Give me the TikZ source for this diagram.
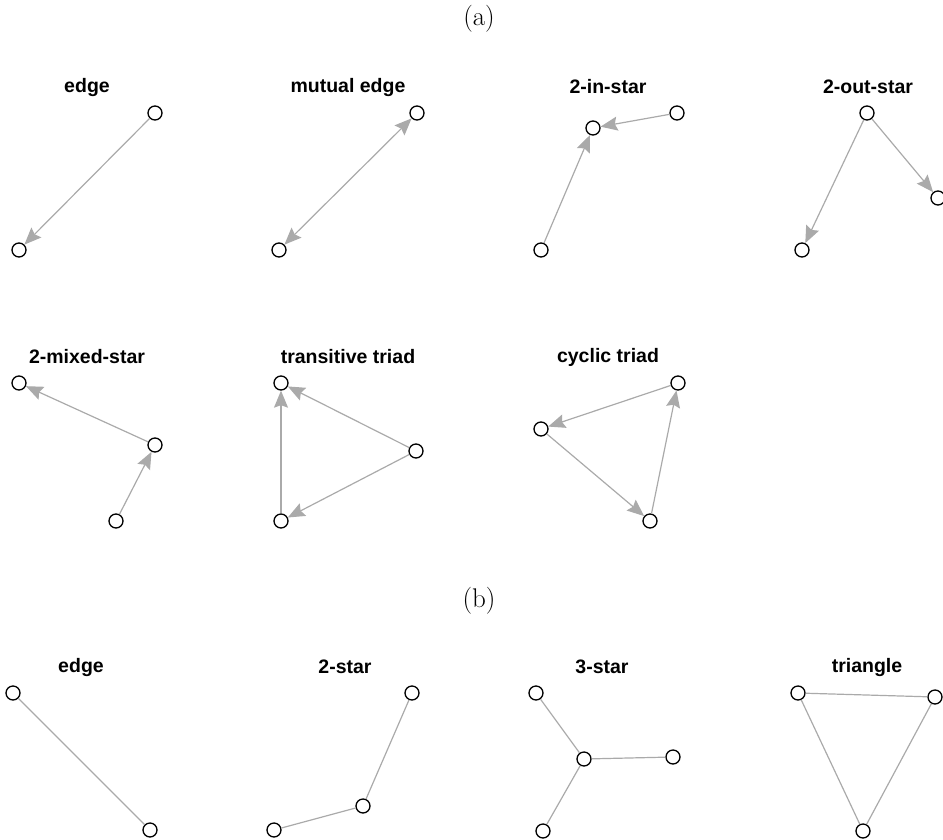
\documentclass[tikz,border=0pt]{standalone}
\usepackage{fontspec}
\newfontfamily\panelfont{Liberation Sans}
\usetikzlibrary{arrows.meta}
\definecolor{edgegray}{HTML}{AAAAAA}
\tikzset{
  vtx/.style={circle, draw=black, line width=1.3pt, fill=white, minimum size=14pt, inner sep=0pt},
  lnk/.style={draw=edgegray, line width=1.2pt},
  tip/.tip={Stealth[length=17pt, width=14pt, inset=2.5pt, fill=edgegray]},
  arr/.style={lnk, -tip},
  both/.style={lnk, tip-tip},
  ttl/.style={font=\panelfont\bfseries\fontsize{19.5}{22}\selectfont},
  part/.style={font=\fontsize{27}{30}\selectfont}
}
\begin{document}
\begin{tikzpicture}[x=1pt, y=-1pt]
  \useasboundingbox (0,0) rectangle (943,839);
  \node[part] (pa) at (479,19) {(a)};
  \node[part] (pb) at (479,601) {(b)};
  % Titles
  \foreach \x/\y/\t in {87/87/edge, 348/87/mutual edge, 608/87/2-in-star, 868/87/2-out-star,
      87/357/2-mixed-star, 348/357/transitive triad, 608/357/cyclic triad,
      81/667/edge, 345/667/2-star, 602/667/3-star, 867/667/triangle}
    \node[ttl] at (\x,\y) {\t};
  % Edge
  \node[vtx] (e1) at (155,113) {}; \node[vtx] (e2) at (19,250) {};
  \draw[arr] (e1) -- (e2);
  % Mutual edge
  \node[vtx] (m1) at (417,113) {}; \node[vtx] (m2) at (279,250) {};
  \draw[both] (m1) -- (m2);
  % 2-in-star
  \node[vtx] (i1) at (593,128) {}; \node[vtx] (i2) at (677,113) {}; \node[vtx] (i3) at (541,250) {};
  \draw[arr] (i2) -- (i1);
  \draw[arr] (i3) -- (i1);
  % 2-out-star
  \node[vtx] (o1) at (867,113) {}; \node[vtx] (o2) at (802,250) {}; \node[vtx] (o3) at (938,198) {};
  \draw[arr] (o1) -- (o2);
  \draw[arr] (o1) -- (o3);
  % 2-mixed-star
  \node[vtx] (x1) at (19,383) {}; \node[vtx] (x2) at (155,445) {}; \node[vtx] (x3) at (116,521) {};
  \draw[arr] (x3) -- (x2);
  \draw[arr] (x2) -- (x1);
  % Transitive triad
  \node[vtx] (t1) at (281,383) {}; \node[vtx] (t2) at (416,451) {}; \node[vtx] (t3) at (281,521) {};
  \draw[arr] (t2) -- (t1);
  \draw[arr] (t3) -- (t1);
  \draw[arr] (t2) -- (t3);
  % Cyclic triad
  \node[vtx] (c1) at (678,383) {}; \node[vtx] (c2) at (541,429) {}; \node[vtx] (c3) at (650,521) {};
  \draw[arr] (c1) -- (c2);
  \draw[arr] (c2) -- (c3);
  \draw[arr] (c3) -- (c1);
  % Undirected edge
  \node[vtx] (u1) at (13,693) {}; \node[vtx] (u2) at (150,830) {};
  \draw[lnk] (u1) -- (u2);
  % 2-star
  \node[vtx] (s1) at (412,693) {}; \node[vtx] (s2) at (363,806) {}; \node[vtx] (s3) at (274,830) {};
  \draw[lnk] (s1) -- (s2) -- (s3);
  % 3-star
  \node[vtx] (r1) at (536,693) {}; \node[vtx] (r2) at (584,759) {};
  \node[vtx] (r3) at (673,757) {}; \node[vtx] (r4) at (543,831) {};
  \foreach \n in {r1,r3,r4} \draw[lnk] (r2) -- (\n);
  % Triangle
  \node[vtx] (g1) at (798,693) {}; \node[vtx] (g2) at (935,697) {}; \node[vtx] (g3) at (863,831) {};
  \draw[lnk] (g1) -- (g2) -- (g3) -- (g1);
\end{tikzpicture}
\end{document}
